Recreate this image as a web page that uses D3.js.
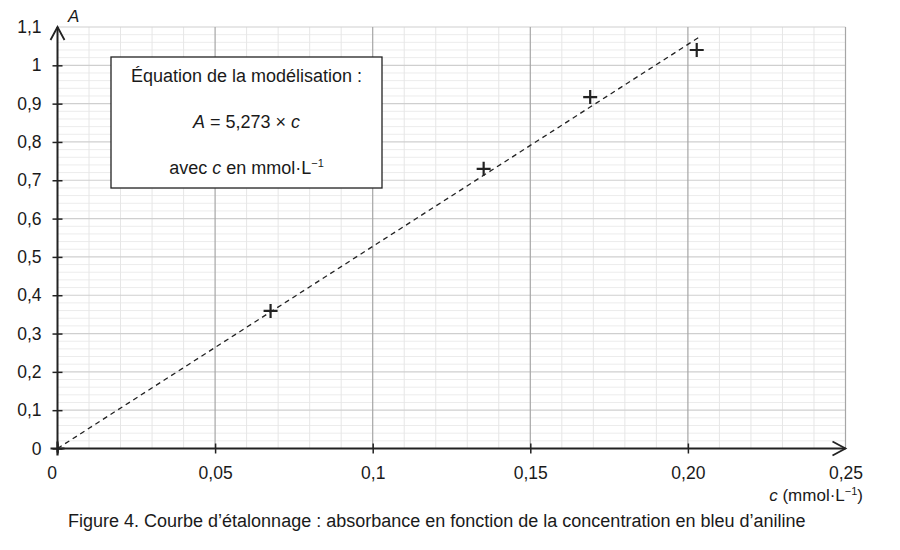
<!DOCTYPE html>
<html>
<head>
<meta charset="utf-8">
<script src="https://cdn.jsdelivr.net/npm/d3@7"></script>
<style>
  body { margin: 0; background: #fff; }
  text { font-family: "Liberation Sans", Arial, sans-serif; fill: #1a1a1a; }
</style>
</head>
<body>
<div class="myViz"></div>
<script>
// measured points (concentration in mmol/L, absorbance)
var concentrations = [0, 0.0676, 0.1352, 0.169, 0.2028];
var absorbances = [0, 0.359, 0.730, 0.917, 1.040];

// model A = k * c
var slope = 5.273;
var modelRange = [0, 0.2035];

var xTicks = [0, 0.05, 0.1, 0.15, 0.2, 0.25];
var xTickLabels = ["0", "0,05", "0,1", "0,15", "0,20", "0,25"];
var yTicks = [0, 0.1, 0.2, 0.3, 0.4, 0.5, 0.6, 0.7, 0.8, 0.9, 1, 1.1];
var yTickLabels = ["0", "0,1", "0,2", "0,3", "0,4", "0,5", "0,6", "0,7", "0,8", "0,9", "1", "1,1"];

var boxLines = ["Équation de la modélisation :", "A = 5,273 × c", "avec c en mmol·L⁻¹"];
var caption = "Figure 4. Courbe d’étalonnage : absorbance en fonction de la concentration en bleu d’aniline";

// set the dimensions and margins of the graph
var margin = {top: 27, right: 55, bottom: 101, left: 57.5},
    width = 900 - margin.left - margin.right,
    height = 550 - margin.top - margin.bottom;

var svg = d3.select(".myViz")
  .append("svg")
  .attr("width", 900)
  .attr("height", 550);

var chartGroup = svg.append("g")
  .attr("transform", `translate(${margin.left}, ${margin.top})`);

var x = d3.scaleLinear().domain([0, 0.25]).range([0, 788]);
var y = d3.scaleLinear().domain([0, 1.1]).range([421.5, 0]);

// grid: minor lines first, then majors
var xMinor = d3.range(1, 25).map(i => i / 100).filter(v => Math.round(v * 100) % 5 != 0);
var yMinor = d3.range(1, 55).map(i => i / 50).filter(v => Math.round(v * 50) % 5 != 0);

chartGroup.selectAll(".yminor").data(yMinor).enter().append("line")
  .attr("x1", 0).attr("x2", x(0.25))
  .attr("y1", d => y(d)).attr("y2", d => y(d))
  .style("stroke", "#ececec").style("stroke-width", 1);

chartGroup.selectAll(".xminor").data(xMinor).enter().append("line")
  .attr("x1", d => x(d)).attr("x2", d => x(d))
  .attr("y1", 0).attr("y2", y(0))
  .style("stroke", "#e6e6e6").style("stroke-width", 1);

chartGroup.selectAll(".ymajor").data(yTicks.slice(1)).enter().append("line")
  .attr("x1", 0).attr("x2", x(0.25))
  .attr("y1", d => y(d)).attr("y2", d => y(d))
  .style("stroke", "#cfcfcf").style("stroke-width", 1.2);

chartGroup.selectAll(".xmajor").data(xTicks.slice(1)).enter().append("line")
  .attr("x1", d => x(d)).attr("x2", d => x(d))
  .attr("y1", 0).attr("y2", y(0))
  .style("stroke", "#a6a6a6").style("stroke-width", 1.2);

// axes
var xAxis = d3.axisBottom(x)
  .tickValues(xTicks)
  .tickFormat((d, i) => xTickLabels[i])
  .tickSizeInner(5).tickSizeOuter(0).tickPadding(13);
var gx = chartGroup.append("g")
  .attr("transform", "translate(0," + y(0) + ")")
  .call(xAxis);
gx.select(".domain").remove();
gx.selectAll(".tick line").attr("y1", -5).style("stroke", "#222").style("stroke-width", 1.5);
gx.selectAll(".tick text").style("font-size", "17.5px").attr("fill", "#1a1a1a");
gx.selectAll(".tick").filter(d => d == 0.25).select("line").remove();
gx.selectAll(".tick").filter(d => d == 0).select("text").attr("dx", -6);

var yAxis = d3.axisLeft(y)
  .tickValues(yTicks)
  .tickFormat((d, i) => yTickLabels[i])
  .tickSizeInner(5).tickSizeOuter(0).tickPadding(11);
var gy = chartGroup.append("g").call(yAxis);
gy.select(".domain").remove();
gy.selectAll(".tick line").attr("x2", -5).attr("x1", 5).style("stroke", "#222").style("stroke-width", 1.5);
gy.selectAll(".tick text").style("font-size", "17.5px").attr("fill", "#1a1a1a");
gy.selectAll(".tick").filter(d => d == 1.1).select("line").remove();

// axis lines with open arrow heads
chartGroup.append("line")
  .attr("x1", 0).attr("x2", x(0.25)).attr("y1", y(0)).attr("y2", y(0))
  .style("stroke", "#222").style("stroke-width", 2);
chartGroup.append("line")
  .attr("x1", 0).attr("x2", 0).attr("y1", y(0) + 4).attr("y2", y(1.1))
  .style("stroke", "#222").style("stroke-width", 2);
chartGroup.append("path")
  .attr("d", `M${x(0.25) - 13},${y(0) - 7} L${x(0.25)},${y(0)} L${x(0.25) - 13},${y(0) + 7}`)
  .style("fill", "none").style("stroke", "#222").style("stroke-width", 1.8);
chartGroup.append("path")
  .attr("d", `M-7,${y(1.1) + 13} L0,${y(1.1)} L7,${y(1.1) + 13}`)
  .style("fill", "none").style("stroke", "#222").style("stroke-width", 1.8);

// model line
chartGroup.append("path")
  .datum(modelRange)
  .attr("d", d3.line().x(d => x(d)).y(d => y(slope * d)))
  .style("fill", "none").style("stroke", "#222").style("stroke-width", 1.3)
  .style("stroke-dasharray", "5,4");

// measured points as crosses
var pts = concentrations.map((c, i) => ({c: c, a: absorbances[i]}));
var cross = chartGroup.selectAll(".pt").data(pts).enter().append("g")
  .attr("transform", d => `translate(${x(d.c)},${y(d.a)})`);
cross.append("path")
  .attr("d", "M-7,0 L7,0 M0,-7 L0,7")
  .style("stroke", "#222").style("stroke-width", 2.2).style("fill", "none");

// equation box
var box = chartGroup.append("g").attr("transform", `translate(${111 - margin.left},${57 - margin.top})`);
box.append("rect")
  .attr("width", 271).attr("height", 131)
  .style("fill", "#fff").style("stroke", "#222").style("stroke-width", 1.3);
var t1 = box.append("text").attr("x", 135.5).attr("y", 25).attr("text-anchor", "middle").style("font-size", "18px");
t1.text(boxLines[0]);
var t2 = box.append("text").attr("x", 135.5).attr("y", 71).attr("text-anchor", "middle").style("font-size", "18px");
t2.append("tspan").style("font-style", "italic").text("A");
t2.append("tspan").text(" = 5,273 × ");
t2.append("tspan").style("font-style", "italic").text("c");
var t3 = box.append("text").attr("x", 135.5).attr("y", 117).attr("text-anchor", "middle").style("font-size", "18px");
t3.append("tspan").text("avec ");
t3.append("tspan").style("font-style", "italic").text("c");
t3.append("tspan").text(" en mmol·L");
t3.append("tspan").attr("dy", -7).style("font-size", "11px").text("−1");

// axis titles
svg.append("text").attr("x", 68).attr("y", 22)
  .style("font-size", "17px").style("font-style", "italic").text("A");

var xt = svg.append("text").attr("x", 863).attr("y", 501).attr("text-anchor", "end").style("font-size", "17px");
xt.append("tspan").style("font-style", "italic").text("c");
xt.append("tspan").text(" (mmol·L");
xt.append("tspan").attr("dy", -6).style("font-size", "11px").text("−1");
xt.append("tspan").attr("dy", 6).text(")");

// caption
svg.append("text").attr("x", 68).attr("y", 527)
  .style("font-size", "18px").text(caption);
</script>
</body>
</html>
